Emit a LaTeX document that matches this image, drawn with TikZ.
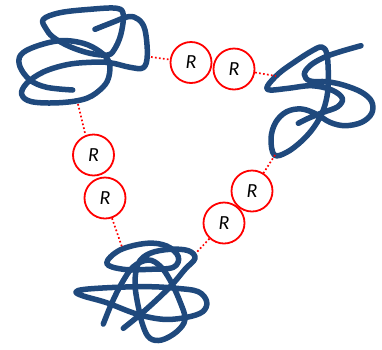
\documentclass[tikz,border=0pt]{standalone}
\usepackage{fontspec}
\setmainfont{Carlito}
\definecolor{chain}{RGB}{31,73,125}
\definecolor{linkred}{RGB}{255,0,0}
\begin{document}
\begin{tikzpicture}[x=1pt,y=-1pt,
  strand/.style={draw=chain,line width=5.5pt,line cap=round,line join=round},
  rgroup/.style={circle,draw=linkred,line width=1.8pt,minimum size=41pt,inner sep=0pt,
    font=\fontsize{20}{20}\selectfont\itshape},
  tether/.style={draw=linkred,line width=1.7pt,dash pattern=on 1.7pt off 2.3pt}]
\useasboundingbox (0,0) rectangle (382,349);

% --- upper-left coil
\draw[strand] plot[smooth,tension=0.6] coordinates {
  (72.7,90) (46.7,87.3) (30,80) (20,66.7) (20.7,55) (35,46.7) (60,40.7)
  (83.3,43.3) (100,51.7) (109,62) (109,76) (103,87) (86.7,98.3) (60,102.7)
  (31.7,101.7) (21.7,94.3) (26.7,83.3) (43.3,72) (66.7,64.7) (90,62.3)
  (110,62.7) (130,67.3) (143.3,67.7) (147.3,55) (145,30) (138.3,19.3)
  (128.3,16.7) (111.7,22.7) (95,29.3)};
\draw[strand] plot[smooth cycle,tension=0.6] coordinates {
  (43.3,19.3) (60,12.7) (90,9.3) (116.7,8.3) (123.3,15) (120.7,35)
  (114,50) (107.3,55) (90,53.3) (70,46.7) (53.3,37.3) (46,28.7)};

% --- right coil
\draw[strand] plot[smooth,tension=0.6] coordinates {
  (361,45.7) (340,51.7) (323.3,57.7) (310,65.7) (304.3,74.3) (310,81)
  (326.7,81.7) (343.3,85) (361.7,92.3) (371.7,101.7) (371.7,113.3)
  (361.7,122.3) (345,125.7) (330,122.3) (316.7,114.3) (301.7,109)
  (286.7,111.7) (275.7,122.3) (271,138.3) (274.3,155) (286.7,152.3)
  (301.7,141) (314.3,126.7) (323.3,110) (327.7,91.7) (328.3,71.7)
  (326.7,53.3) (321.7,47) (311.7,51) (295,61.7) (279,73.3) (267.7,85.7)
  (270,90) (288.3,88.3) (311.7,85.7) (331.7,90) (342.3,98.3) (337.7,106.7)
  (323.3,112.3) (308.3,118.3) (298.3,123.3)};

% --- lower coil
\draw[strand] plot[smooth,tension=0.6] coordinates {
  (123.3,328.3) (141.7,313.3) (160,296.7) (173.3,283.3) (185,269.3)
  (195,258.3) (188.3,250.7) (170,249.3) (150,253.3) (138.3,263.3)
  (135,283.3) (138.3,306.7) (143.3,326.7) (150,338.3) (161.7,340)
  (176.7,331.7) (185,319.3) (180,301.7) (170,280) (160,266) (148.3,260)
  (133.3,266.7) (121.7,283.3) (111.7,303.3) (103.3,324)};
\draw[strand] plot[smooth cycle,tension=0.6] coordinates {
  (76,292) (85,289.3) (116.7,287.3) (150,286.7) (176.7,288.3) (198.3,291.7)
  (206.7,301.7) (202.7,311.7) (186.7,317.3) (163.3,319.3) (136.7,314)
  (106.7,302.7) (83.3,296)};
\draw[strand] plot[smooth cycle,tension=0.6] coordinates {
  (106.7,263.3) (120,250) (146.7,243.3) (166.7,246) (178.3,256.7)
  (173.3,267.3) (150,269.3) (123.3,269.3)};

% --- linking groups
\node[rgroup] (r1) at (191,62.5) {R};
\node[rgroup] (r2) at (234,69) {R};
\node[rgroup] (r3) at (93.5,155) {R};
\node[rgroup] (r4) at (105,198) {R};
\node[rgroup] (r5) at (252,191) {R};
\node[rgroup] (r6) at (224,223) {R};

% tether ends on the coils
\coordinate (t1) at (151,57);
\coordinate (t2) at (276,76);
\coordinate (t3) at (78,104);
\coordinate (t4) at (122,247);
\coordinate (t5) at (275,155);
\coordinate (t6) at (196,253);

\draw[tether] (t1) -- (r1);
\draw[tether] (r2) -- (t2);
\draw[tether] (t3) -- (r3.112);
\draw[tether] (r4) -- (t4);
\draw[tether] (t5) -- (r5);
\draw[tether] (r6) -- (t6);
\end{tikzpicture}
\end{document}
